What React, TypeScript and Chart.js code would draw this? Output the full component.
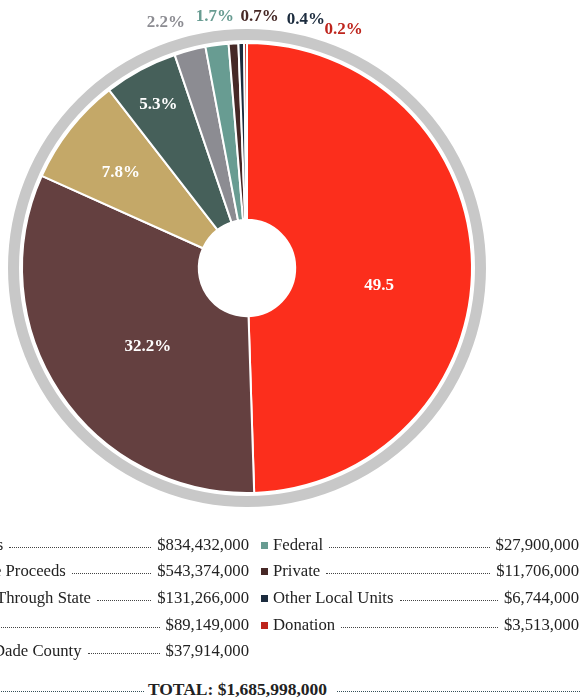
import React, { useEffect, useRef } from "react";
import { Chart, registerables } from "chart.js";

Chart.register(...registerables);

// ---- data ----
const categories = [
  "Reserves",
  "Revenue Proceeds",
  "Dollars Through State",
  "Other",
  "Miami-Dade County",
  "Federal",
  "Private",
  "Other Local Units",
  "Donation",
];
const amounts = [834432000, 543374000, 131266000, 89149000, 37914000, 27900000, 11706000, 6744000, 3513000];
const sliceLabels = ["49.5", "32.2%", "7.8%", "5.3%", "2.2%", "1.7%", "0.7%", "0.4%", "0.2%"];
const totalLabel = "TOTAL: $1,685,998,000";

// ---- styles ----
const sliceColors = [
  "#FC2E1C",
  "#644040",
  "#C4A868",
  "#46605A",
  "#8C8C92",
  "#689C92",
  "#462826",
  "#1C2C3E",
  "#BE241C",
];
const labelColors = ["#FFFFFF", "#FFFFFF", "#FFFFFF", "#FFFFFF", "#8C8C92", "#689C92", "#462826", "#1C2C3E", "#BE241C"];
// offsets of each label from the slice centroid computed by Chart.js
const labelNudges: [number, number][] = [
  [-4.5, 19.7],
  [14.4, 2.5],
  [-18.7, -10.6],
  [-23.9, -42.8],
  [-46.4, -113.5],
  [-13.8, -115.7],
  [20.7, -114.7],
  [62.5, -112],
  [97.4, -101.5],
];

const SERIF = '"Liberation Serif", "Times New Roman", serif';

const ringPlugin = {
  id: "outerRing",
  beforeDatasetsDraw(chart: any) {
    const meta = chart.getDatasetMeta(0);
    const arc = meta.data[0];
    if (!arc) return;
    const { x, y, outerRadius } = arc.getProps(["x", "y", "outerRadius"], true);
    const ctx = chart.ctx;
    ctx.save();
    ctx.beginPath();
    ctx.arc(x, y, outerRadius + 8.5, 0, Math.PI * 2);
    ctx.lineWidth = 11;
    ctx.strokeStyle = "#C8C8C8";
    ctx.stroke();
    ctx.restore();
  },
};

const labelPlugin = {
  id: "sliceLabels",
  afterDatasetsDraw(chart: any) {
    const meta = chart.getDatasetMeta(0);
    const ctx = chart.ctx;
    ctx.save();
    ctx.font = `bold 17px ${SERIF}`;
    ctx.textAlign = "center";
    ctx.textBaseline = "middle";
    meta.data.forEach((el: any, i: number) => {
      const p = el.tooltipPosition(true);
      const [dx, dy] = labelNudges[i];
      ctx.fillStyle = labelColors[i];
      ctx.fillText(sliceLabels[i], p.x + dx, p.y + dy);
    });
    ctx.restore();
  },
};

const fmt = (v: number) => "$" + v.toLocaleString("en-US");

const ROW_H = 26.7;

function LegendRow({ idx }: { idx: number }) {
  return (
    <div
      style={{
        display: "flex",
        alignItems: "center",
        height: ROW_H,
        lineHeight: `${ROW_H}px`,
        whiteSpace: "nowrap",
      }}
    >
      <span
        style={{
          display: "inline-block",
          width: 7,
          height: 7,
          background: sliceColors[idx],
          marginRight: 5,
          flex: "none",
        }}
      />
      <span style={{ flex: "none" }}>{categories[idx]}</span>
      <span
        style={{
          flex: 1,
          height: 0,
          borderBottom: "1px dotted #444",
          margin: "4px 6px 0 6px",
        }}
      />
      <span style={{ flex: "none" }}>{fmt(amounts[idx])}</span>
    </div>
  );
}

export default function App() {
  const canvasRef = useRef<HTMLCanvasElement | null>(null);

  useEffect(() => {
    if (!canvasRef.current) return;
    const chart = new Chart(canvasRef.current, {
      type: "doughnut",
      data: {
        labels: categories,
        datasets: [
          {
            data: amounts,
            backgroundColor: sliceColors,
            borderColor: "#FFFFFF",
            borderWidth: 2,
          },
        ],
      },
      options: {
        responsive: false,
        maintainAspectRatio: false,
        animation: false,
        devicePixelRatio: 1,
        radius: 225,
        cutout: 48,
        layout: { padding: { left: 22, right: 22, top: 43, bottom: 43 } },
        plugins: {
          legend: { display: false },
          tooltip: { enabled: false },
        },
      } as any,
      plugins: [ringPlugin, labelPlugin],
    });
    return () => chart.destroy();
  }, []);

  const leftIdx = [0, 1, 2, 3, 4];
  const rightIdx = [5, 6, 7, 8];

  return (
    <div
      style={{
        position: "absolute",
        left: 0,
        top: 0,
        width: 580,
        height: 700,
        overflow: "hidden",
        background: "#FFFFFF",
        fontFamily: SERIF,
        fontSize: 16.7,
        color: "#222222",
      }}
    >
      <canvas
        ref={canvasRef}
        width={494}
        height={536}
        style={{ position: "absolute", left: 0, top: 0, width: 494, height: 536 }}
      />
      <div style={{ position: "absolute", left: -69, top: 531.7, width: 318 }}>
        {leftIdx.map((i) => (
          <LegendRow key={i} idx={i} />
        ))}
      </div>
      <div style={{ position: "absolute", left: 261, top: 531.7, width: 318 }}>
        {rightIdx.map((i) => (
          <LegendRow key={i} idx={i} />
        ))}
      </div>
      <div
        style={{
          position: "absolute",
          left: -99,
          top: 690 - ROW_H / 2,
          width: 679,
          height: ROW_H,
          display: "flex",
          alignItems: "center",
          whiteSpace: "nowrap",
        }}
      >
        <span style={{ flex: 1, height: 0, borderBottom: "1px dotted #34505A", margin: "4px 4px 0 0" }} />
        <span style={{ flex: "none", fontWeight: "bold", fontSize: 17.5 }}>{totalLabel}</span>
        <span style={{ flex: 1, height: 0, borderBottom: "1px dotted #34505A", margin: "4px 0 0 10px" }} />
      </div>
    </div>
  );
}
